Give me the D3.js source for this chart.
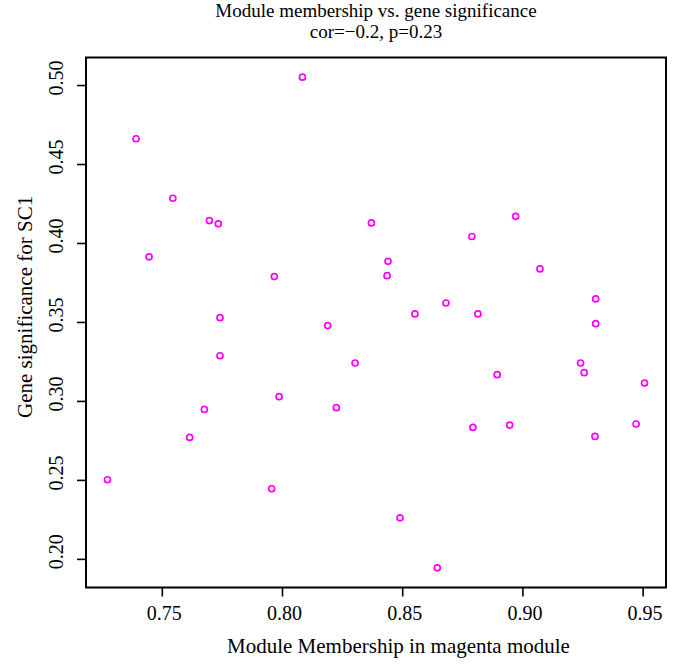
<!DOCTYPE html>
<html>
<head>
<meta charset="utf-8">
<script src="https://cdn.jsdelivr.net/npm/d3@7"></script>
<style>
  html, body { margin: 0; padding: 0; background: #ffffff; }
  svg text { font-family: "Liberation Serif", "Times New Roman", serif; fill: #000; }
</style>
</head>
<body>
<svg id="chart" width="681" height="666"></svg>
<script>
// Module membership (x) and gene significance (y) for the genes of the magenta module
const membership = [
  0.8085, 0.7393, 0.7546, 0.7698, 0.7735, 0.7447, 0.7968, 0.8372, 0.8972, 0.8790,
  0.8441, 0.8437, 0.9073, 0.7742, 0.8190, 0.7742, 0.8304, 0.7988, 0.7677, 0.8226,
  0.7616, 0.7274, 0.7957, 0.9305, 0.8682, 0.8553, 0.8815, 0.9305, 0.9242, 0.9257,
  0.8895, 0.9508, 0.8794, 0.8947, 0.9473, 0.9302, 0.8491, 0.8646
];
const significance = [
  0.5050, 0.4660, 0.4283, 0.4142, 0.4121, 0.3912, 0.3787, 0.4127, 0.4169, 0.4041,
  0.3884, 0.3793, 0.3836, 0.3527, 0.3477, 0.3286, 0.3240, 0.3027, 0.2946, 0.2957,
  0.2769, 0.2501, 0.2444, 0.3646, 0.3620, 0.3551, 0.3551, 0.3489, 0.3240, 0.3179,
  0.3166, 0.3113, 0.2832, 0.2847, 0.2854, 0.2775, 0.2260, 0.1943
];
const xTicks = [0.75, 0.80, 0.85, 0.90, 0.95];
const yTicks = [0.20, 0.25, 0.30, 0.35, 0.40, 0.45, 0.50];
const titleLines = ["Module membership vs. gene significance", "cor=\u22120.2, p=0.23"];
const xLabel = "Module Membership in magenta module";
const yLabel = "Gene significance for SC1";

const svg = d3.select("#chart");
const plot = { left: 86, right: 666, top: 57.5, bottom: 587.5 };

// Axis ranges padded by 4% on each side, like base R graphics
function padded(values) {
  const [lo, hi] = d3.extent(values);
  const pad = (hi - lo) * 0.04;
  return [lo - pad, hi + pad];
}

const x = d3.scaleLinear().domain(padded(membership)).range([plot.left, plot.right]);
const y = d3.scaleLinear().domain(padded(significance)).range([plot.bottom, plot.top]);

// Points
const pts = membership.map((m, i) => ({ m, s: significance[i] }));
svg.append("g")
  .selectAll("circle")
  .data(pts)
  .join("circle")
  .attr("cx", d => x(d.m))
  .attr("cy", d => y(d.s))
  .attr("r", 3)
  .attr("fill", "none")
  .attr("stroke", "#ff00ff")
  .attr("stroke-width", 1.7);

// Bottom axis
const gx = svg.append("g")
  .attr("transform", `translate(0,${plot.bottom})`)
  .call(d3.axisBottom(x).tickValues(xTicks).tickSize(9).tickFormat(d3.format(".2f")));
gx.select(".domain").remove();
gx.selectAll(".tick line").attr("stroke", "#000").attr("stroke-width", 1.6);
gx.selectAll(".tick text")
  .attr("font-family", "Liberation Serif, serif")
  .attr("font-size", 20)
  .attr("fill", "#000")
  .attr("x", 2)
  .attr("y", 32)
  .attr("dy", 0)
  .attr("text-anchor", "middle");

// Left axis with labels rotated to run upward
const gy = svg.append("g")
  .attr("transform", `translate(${plot.left},0)`)
  .call(d3.axisLeft(y).tickValues(yTicks).tickSize(9).tickFormat(d3.format(".2f")));
gy.select(".domain").remove();
gy.selectAll(".tick line").attr("stroke", "#000").attr("stroke-width", 1.6);
gy.selectAll(".tick text")
  .attr("font-family", "Liberation Serif, serif")
  .attr("font-size", 20)
  .attr("fill", "#000")
  .attr("transform", "rotate(-90)")
  .attr("x", 7.5)
  .attr("y", -22.7)
  .attr("dy", 0)
  .attr("text-anchor", "middle");

// Plot frame
svg.append("rect")
  .attr("x", plot.left)
  .attr("y", plot.top)
  .attr("width", plot.right - plot.left)
  .attr("height", plot.bottom - plot.top)
  .attr("fill", "none")
  .attr("stroke", "#000")
  .attr("stroke-width", 2);

// Title, two lines
svg.append("g")
  .selectAll("text")
  .data(titleLines)
  .join("text")
  .attr("x", 376)
  .attr("y", (d, i) => 17 + i * 21)
  .attr("text-anchor", "middle")
  .attr("font-size", 19)
  .text(d => d);

// Axis titles
svg.append("text")
  .attr("x", 227)
  .attr("y", 652.7)
  .attr("text-anchor", "start")
  .attr("font-size", 21)
  .text(xLabel);

svg.append("text")
  .attr("transform", "translate(31.5,418) rotate(-90)")
  .attr("text-anchor", "start")
  .attr("font-size", 21)
  .text(yLabel);
</script>
</body>
</html>
